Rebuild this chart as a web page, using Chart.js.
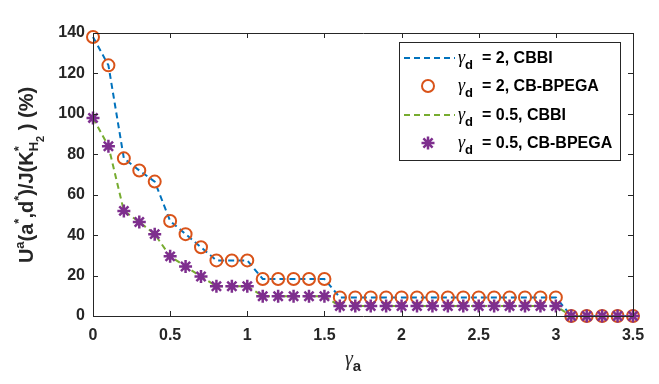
<!DOCTYPE html>
<html>
<head>
<meta charset="utf-8">
<script src="https://cdn.jsdelivr.net/npm/chart.js@4"></script>
<style>
  html, body { margin: 0; padding: 0; background: #fff; }
  #wrap { width: 659px; height: 384px; }
</style>
</head>
<body>
<div id="wrap"><canvas id="chart" width="659" height="384"></canvas></div>
<script>
// gamma_a values (x axis)
const gammaA = [0, 0.1, 0.2, 0.3, 0.4, 0.5, 0.6, 0.7, 0.8, 0.9, 1.0, 1.1, 1.2, 1.3, 1.4, 1.5, 1.6, 1.7,
  1.8, 1.9, 2.0, 2.1, 2.2, 2.3, 2.4, 2.5, 2.6, 2.7, 2.8, 2.9, 3.0, 3.1, 3.2, 3.3, 3.4, 3.5];

// gamma_d = 2
const cbbiD2 = [138, 124, 78, 72, 66.5, 47, 40.5, 34, 27.5, 27.5, 27.5, 18.3, 18.3, 18.3, 18.3, 18.3, 9.2, 9.2,
  9.2, 9.2, 9.2, 9.2, 9.2, 9.2, 9.2, 9.2, 9.2, 9.2, 9.2, 9.2, 9.2, 0, 0, 0, 0, 0];
const bpegaD2 = [138, 124, 78, 72, 66.5, 47, 40.5, 34, 27.5, 27.5, 27.5, 18.3, 18.3, 18.3, 18.3, 18.3, 9.2, 9.2,
  9.2, 9.2, 9.2, 9.2, 9.2, 9.2, 9.2, 9.2, 9.2, 9.2, 9.2, 9.2, 9.2, 0, 0, 0, 0, 0];

// gamma_d = 0.5
const cbbiD05 = [98, 84, 52, 46.5, 40.5, 29.5, 24.5, 19.5, 14.7, 14.7, 14.7, 9.8, 9.8, 9.8, 9.8, 9.8, 4.9, 4.9,
  4.9, 4.9, 4.9, 4.9, 4.9, 4.9, 4.9, 4.9, 4.9, 4.9, 4.9, 4.9, 4.9, 0, 0, 0, 0, 0];
const bpegaD05 = [98, 84, 52, 46.5, 40.5, 29.5, 24.5, 19.5, 14.7, 14.7, 14.7, 9.8, 9.8, 9.8, 9.8, 9.8, 4.9, 4.9,
  4.9, 4.9, 4.9, 4.9, 4.9, 4.9, 4.9, 4.9, 4.9, 4.9, 4.9, 4.9, 4.9, 0, 0, 0, 0, 0];

const legendNames = ['= 2, CBBI', '= 2, CB-BPEGA', '= 0.5, CBBI', '= 0.5, CB-BPEGA'];

const xTicks = [0, 0.5, 1, 1.5, 2, 2.5, 3, 3.5];
const yTicks = [0, 20, 40, 60, 80, 100, 120, 140];

const axisColor = '#262626';
const sans = '"Liberation Sans", Arial, sans-serif';
const serif = '"Liberation Serif", "DejaVu Serif", serif';

function pts(ys) {
  return gammaA.map((x, i) => ({ x: x, y: ys[i] }));
}

// draw a run of text pieces with different fonts / vertical offsets
function drawRich(ctx, parts, x, y, align) {
  let total = 0;
  parts.forEach(p => {
    ctx.font = p.font;
    p.w = p.adv !== undefined ? p.adv : ctx.measureText(p.text).width;
    total += p.w;
  });
  let cx = align === 'center' ? x - total / 2 : x;
  parts.forEach(p => {
    ctx.font = p.font;
    ctx.fillText(p.text, cx, y + (p.dy || 0));
    cx += p.w;
  });
}

const decorPlugin = {
  id: 'decor',
  afterDraw(chart) {
    const ctx = chart.ctx;
    const a = chart.chartArea;
    const xs = chart.scales.x, ys = chart.scales.y;
    ctx.save();

    // box + inward ticks
    ctx.strokeStyle = axisColor;
    ctx.lineWidth = 1;
    ctx.beginPath();
    ctx.rect(Math.round(a.left) + 0.5, Math.round(a.top) + 0.5,
      Math.round(a.right - a.left), Math.round(a.bottom - a.top));
    xTicks.forEach(t => {
      const px = Math.round(xs.getPixelForValue(t)) + 0.5;
      ctx.moveTo(px, a.bottom); ctx.lineTo(px, a.bottom - 5);
      ctx.moveTo(px, a.top); ctx.lineTo(px, a.top + 5);
    });
    yTicks.forEach(t => {
      const py = Math.round(ys.getPixelForValue(t)) + 0.5;
      ctx.moveTo(a.left, py); ctx.lineTo(a.left + 5, py);
      ctx.moveTo(a.right, py); ctx.lineTo(a.right - 5, py);
    });
    ctx.stroke();

    ctx.fillStyle = axisColor;
    ctx.textBaseline = 'alphabetic';
    ctx.textAlign = 'left';

    // x axis title: gamma_a
    drawRich(ctx, [
      { text: 'γ', font: 'italic 20px ' + serif },
      { text: 'a', font: 'bold 15px ' + sans, dy: 6 }
    ], 353, 365, 'center');

    // y axis title
    ctx.save();
    ctx.translate(33, 175);
    ctx.rotate(-Math.PI / 2);
    const big = 'bold 20px ' + sans, small = 'bold 13px ' + sans, tiny = 'bold 11px ' + sans;
    drawRich(ctx, [
      { text: 'U', font: big },
      { text: 'a', font: small, dy: -9 },
      { text: '(a', font: big },
      { text: '*', font: small, dy: -10 },
      { text: ',d', font: big },
      { text: '*', font: small, dy: -10 },
      { text: ')/J(K', font: big },
      { text: '*', font: small, dy: -10, adv: 0 },
      { text: 'H', font: small, dy: 5 },
      { text: '2', font: tiny, dy: 11 },
      { text: ' ) (%)', font: big }
    ], 0, 0, 'center');
    ctx.restore();

    // legend
    const lx = 399.5, ly = 42.5, lw = 221, lh = 118;
    ctx.fillStyle = '#fff';
    ctx.fillRect(lx, ly, lw, lh);
    ctx.strokeStyle = axisColor;
    ctx.lineWidth = 1;
    ctx.strokeRect(lx, ly, lw, lh);
    const rows = [58, 86, 115, 143];
    chart.data.datasets.forEach((ds, r) => {
      const y = rows[r];
      if (ds.showLine !== false) {
        ctx.save();
        ctx.strokeStyle = ds.borderColor;
        ctx.lineWidth = ds.borderWidth;
        ctx.setLineDash(ds.borderDash);
        ctx.beginPath();
        ctx.moveTo(404, y); ctx.lineTo(455, y);
        ctx.stroke();
        ctx.restore();
      } else {
        ctx.save();
        ctx.strokeStyle = ds.pointBorderColor;
        ctx.fillStyle = 'rgba(0,0,0,0)';
        ctx.lineWidth = ds.pointBorderWidth;
        Chart.helpers.drawPoint(ctx, {
          pointStyle: ds.pointStyle, radius: ds.pointRadius, borderWidth: ds.pointBorderWidth, rotation: 0
        }, 428, y);
        ctx.restore();
      }
      ctx.fillStyle = '#000';
      drawRich(ctx, [
        { text: 'γ', font: 'italic 18px ' + serif },
        { text: 'd', font: 'bold 13px ' + sans, dy: 6 }
      ], 458, y + 5, 'left');
      ctx.font = 'bold 16px ' + sans;
      ctx.fillText(legendNames[r], 482, y + 5);
    });

    ctx.restore();
  }
};

const ctx = document.getElementById('chart').getContext('2d');
new Chart(ctx, {
  type: 'scatter',
  data: {
    datasets: [
      {
        label: legendNames[0], data: pts(cbbiD2), showLine: true,
        borderColor: '#0072BD', borderWidth: 2, borderDash: [6, 4],
        pointRadius: 0, order: 3, clip: false
      },
      {
        label: legendNames[1], data: pts(bpegaD2), showLine: false,
        pointStyle: 'circle', pointRadius: 6, pointBorderWidth: 2,
        pointBorderColor: '#D95319', pointBackgroundColor: 'rgba(0,0,0,0)',
        order: 2, clip: false
      },
      {
        label: legendNames[2], data: pts(cbbiD05), showLine: true,
        borderColor: '#77AC30', borderWidth: 2, borderDash: [6, 4],
        pointRadius: 0, order: 1, clip: false
      },
      {
        label: legendNames[3], data: pts(bpegaD05), showLine: false,
        pointStyle: 'star', pointRadius: 6.5, pointBorderWidth: 2.5,
        pointBorderColor: '#7E2F8E', pointBackgroundColor: '#7E2F8E',
        order: 0, clip: false
      }
    ]
  },
  options: {
    responsive: false,
    animation: false,
    layout: { padding: { top: 33, right: 26, left: 0, bottom: 0 } },
    plugins: { legend: { display: false }, tooltip: { enabled: false } },
    scales: {
      x: {
        type: 'linear', min: 0, max: 3.5,
        afterBuildTicks: s => { s.ticks = xTicks.map(v => ({ value: v })); },
        afterFit: s => { s.height = 68; },
        grid: { display: false, drawTicks: false },
        border: { display: false },
        ticks: {
          color: axisColor, padding: 10, maxRotation: 0,
          callback: v => String(v),
          font: { family: sans, size: 16, weight: 'bold' }
        }
      },
      y: {
        type: 'linear', min: 0, max: 140,
        afterBuildTicks: s => { s.ticks = yTicks.map(v => ({ value: v })); },
        afterFit: s => { s.width = 93; },
        grid: { display: false, drawTicks: false },
        border: { display: false },
        ticks: {
          color: axisColor, padding: 8,
          callback: v => String(v),
          font: { family: sans, size: 16, weight: 'bold' }
        }
      }
    }
  },
  plugins: [decorPlugin]
});
</script>
</body>
</html>
